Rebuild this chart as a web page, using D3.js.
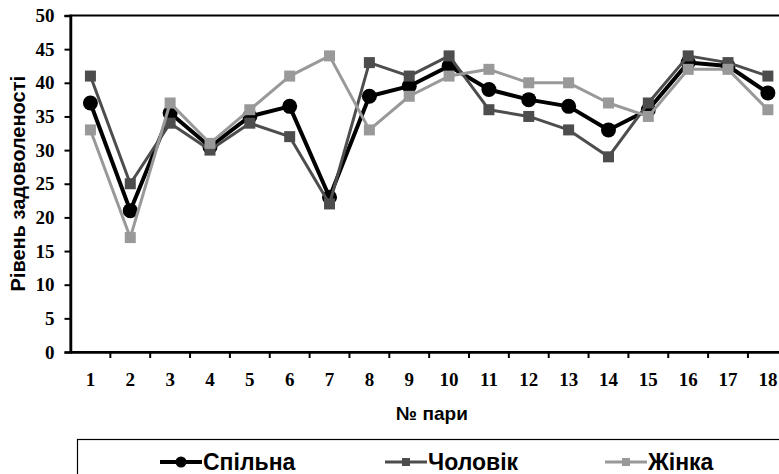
<!DOCTYPE html>
<html lang="uk">
<head>
<meta charset="UTF-8">
<title>Рівень задоволеності</title>
<script src="https://d3js.org/d3.v7.min.js"></script>
<style>
  body { margin: 0; background: #fff; }
</style>
</head>
<body>
<script>
// Дані
var pairs = ["1","2","3","4","5","6","7","8","9","10","11","12","13","14","15","16","17","18"];
var joint = [37, 21, 35.5, 30.5, 35, 36.5, 23, 38, 39.5, 42.5, 39, 37.5, 36.5, 33, 36, 43, 42.5, 38.5];
var husband = [41, 25, 34, 30, 34, 32, 22, 43, 41, 44, 36, 35, 33, 29, 37, 44, 43, 41];
var wife = [33, 17, 37, 31, 36, 41, 44, 33, 38, 41, 42, 40, 40, 37, 35, 42, 42, 36];
var yTicks = [0, 5, 10, 15, 20, 25, 30, 35, 40, 45, 50];

var series = [
    { name: "Спільна", values: joint, color: "#000000", width: 4, marker: "circle" },
    { name: "Чоловік", values: husband, color: "#4d4d4d", width: 3, marker: "square" },
    { name: "Жінка", values: wife, color: "#999999", width: 3, marker: "square" }
];

var width = 779, height = 474;
var plotLeft = 70.5, plotTop = 15.5, plotRight = 787.8, plotBottom = 352;

var svg = d3.select("body").append("svg")
    .attr("width", width)
    .attr("height", height);

var x = d3.scaleBand().domain(pairs).range([plotLeft, plotRight]).padding(0);
var y = d3.scaleLinear().domain([0, 50]).range([plotBottom, plotTop]);

// рамка області побудови
svg.append("rect")
    .attr("x", plotLeft).attr("y", plotTop)
    .attr("width", plotRight - plotLeft).attr("height", plotBottom - plotTop)
    .attr("fill", "none").attr("stroke", "#000").attr("stroke-width", 2);

// вісь Y
var yAxis = svg.append("g")
    .attr("transform", "translate(" + plotLeft + ",0)")
    .call(d3.axisLeft(y).tickValues(yTicks).tickSize(6).tickPadding(10));
yAxis.select(".domain").attr("stroke-width", 2.5);
yAxis.selectAll(".tick line").attr("stroke-width", 2);
yAxis.selectAll("text")
    .attr("font-family", "Liberation Serif")
    .attr("font-weight", "bold")
    .attr("font-size", 19)
    .attr("fill", "#000");

// вісь X, поділки між категоріями
var xAxis = svg.append("g")
    .attr("transform", "translate(0," + plotBottom + ")")
    .call(d3.axisBottom(x).tickSize(0).tickPadding(21));
xAxis.select(".domain").attr("stroke-width", 2.5);
xAxis.selectAll("text")
    .attr("font-family", "Liberation Serif")
    .attr("font-weight", "bold")
    .attr("font-size", 19)
    .attr("fill", "#000");
xAxis.selectAll(".sep")
    .data(pairs.slice(1))
    .enter().append("line")
    .attr("x1", function(d) { return x(d); })
    .attr("x2", function(d) { return x(d); })
    .attr("y1", 0).attr("y2", 6)
    .attr("stroke", "#000").attr("stroke-width", 2);

// підписи осей
svg.append("text")
    .attr("transform", "translate(25," + ((plotTop + plotBottom) / 2) + ") rotate(-90)")
    .attr("text-anchor", "middle")
    .attr("font-family", "Liberation Sans")
    .attr("font-weight", "bold")
    .attr("font-size", 20)
    .text("Рівень задоволеності");

svg.append("text")
    .attr("x", 432).attr("y", 420)
    .attr("text-anchor", "middle")
    .attr("font-family", "Liberation Sans")
    .attr("font-weight", "bold")
    .attr("font-size", 19)
    .text("№ пари");

// лінії та маркери
var line = d3.line()
    .x(function(d, i) { return x(pairs[i]) + x.bandwidth() / 2; })
    .y(function(d) { return y(d); });

function drawMarker(g, s, cx, cy, size) {
    if (s.marker === "circle") {
        g.append("circle").attr("cx", cx).attr("cy", cy).attr("r", size / 2).attr("fill", s.color);
    } else {
        g.append("rect").attr("x", cx - size / 2).attr("y", cy - size / 2)
            .attr("width", size).attr("height", size).attr("fill", s.color);
    }
}

series.forEach(function(s) {
    var g = svg.append("g");
    g.append("path")
        .datum(s.values)
        .attr("d", line)
        .attr("fill", "none")
        .attr("stroke", s.color)
        .attr("stroke-width", s.width)
        .attr("stroke-linejoin", "round");
    s.values.forEach(function(v, i) {
        drawMarker(g, s, x(pairs[i]) + x.bandwidth() / 2, y(v), s.marker === "circle" ? 15 : 11);
    });
});

// легенда
svg.append("rect")
    .attr("x", 77.5).attr("y", 439.5)
    .attr("width", 760).attr("height", 60)
    .attr("fill", "#fff").attr("stroke", "#000").attr("stroke-width", 1.2);

var legendX = [160, 385, 605];
series.forEach(function(s, i) {
    var g = svg.append("g");
    var lx = legendX[i], ly = 462;
    g.append("line")
        .attr("x1", lx).attr("x2", lx + 42)
        .attr("y1", ly).attr("y2", ly)
        .attr("stroke", s.color).attr("stroke-width", s.width);
    drawMarker(g, s, lx + 21, ly, s.marker === "circle" ? 11 : 8);
    g.append("text")
        .attr("x", lx + 43).attr("y", ly + 8)
        .attr("font-family", "Liberation Sans")
        .attr("font-weight", "bold")
        .attr("font-size", 23)
        .text(s.name);
});
</script>
</body>
</html>
